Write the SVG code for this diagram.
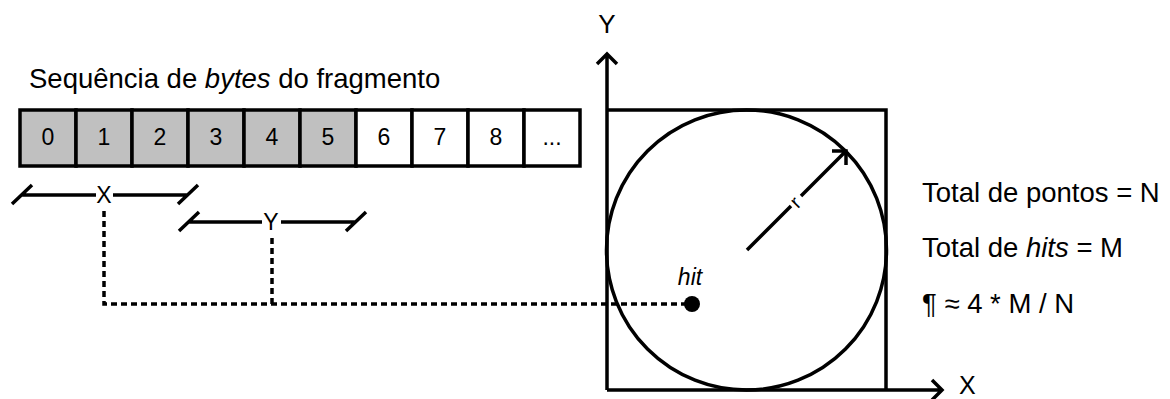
<svg xmlns="http://www.w3.org/2000/svg" width="1170" height="399" viewBox="0 0 1170 399">
<style>
text{font-family:"Liberation Sans",Arial,sans-serif;fill:#000}
.cell{stroke:#000;stroke-width:3.5}
.g{fill:#c0c0c0}
.w{fill:#fff}
.d{font-size:23px;text-anchor:middle}
.ln{stroke:#000;stroke-width:3.5;fill:none}
.dash{stroke:#000;stroke-width:3.5;fill:none;stroke-dasharray:6 4}
.big{font-size:27.5px}
</style>
<rect width="1170" height="399" fill="#fff"/>
<text id="title" class="big" x="29" y="88">Sequência de <tspan font-style="italic">bytes</tspan> do fragmento</text>
<g id="bytes">
<rect class="cell g" x="20" y="110" width="56" height="56"/>
<rect class="cell g" x="76" y="110" width="56" height="56"/>
<rect class="cell g" x="132" y="110" width="56" height="56"/>
<rect class="cell g" x="188" y="110" width="56" height="56"/>
<rect class="cell g" x="244" y="110" width="56" height="56"/>
<rect class="cell g" x="300" y="110" width="56" height="56"/>
<rect class="cell w" x="356" y="110" width="56" height="56"/>
<rect class="cell w" x="412" y="110" width="56" height="56"/>
<rect class="cell w" x="468" y="110" width="56" height="56"/>
<rect class="cell w" x="524" y="110" width="56" height="56"/>
<text class="d" x="48" y="145">0</text>
<text class="d" x="104" y="145">1</text>
<text class="d" x="160" y="145">2</text>
<text class="d" x="216" y="145">3</text>
<text class="d" x="272" y="145">4</text>
<text class="d" x="328" y="145">5</text>
<text class="d" x="384" y="145">6</text>
<text class="d" x="440" y="145">7</text>
<text class="d" x="496" y="145">8</text>
<text class="d" x="552" y="145">...</text>
</g>
<g id="dimX">
<path class="ln" d="M22 195H96M113 195H188M12 204L32 185M178 204L198 185"/>
<text class="d" x="104" y="203">X</text>
</g>
<g id="dimY">
<path class="ln" d="M189 222H262M281 222H356M179 231L199 212M346 231L366 212"/>
<text class="d" x="271" y="230">Y</text>
</g>
<g id="connectors">
<path class="dash" d="M104 211V304H692M272 238V304"/>
</g>
<g id="plot">
<path class="ln" d="M607 390V54M597 64L607 54L617 64"/>
<path class="ln" d="M607 390H942M932 380L942 390L932 400"/>
<path class="ln" d="M607 110H886V390"/>
<circle class="ln" cx="746.5" cy="250" r="140"/>
<path class="ln" d="M747 250L791 206M801 196L846 151M832 151H846V165"/>
<text x="800" y="207" font-size="20" text-anchor="middle" transform="rotate(-45 800 207)">r</text>
<text x="607" y="33" font-size="26" text-anchor="middle">Y</text>
<text x="959" y="394" font-size="25">X</text>
</g>
<g id="hit">
<circle cx="692" cy="304" r="8" fill="#000"/>
<text x="690" y="285" font-size="23" font-style="italic" text-anchor="middle">hit</text>
</g>
<g id="formulas">
<text class="big" x="922" y="202">Total de pontos = N</text>
<text class="big" x="922" y="257">Total de <tspan font-style="italic">hits</tspan> = M</text>
<text class="big" x="922" y="313">¶ ≈ 4 * M / N</text>
</g>
</svg>
